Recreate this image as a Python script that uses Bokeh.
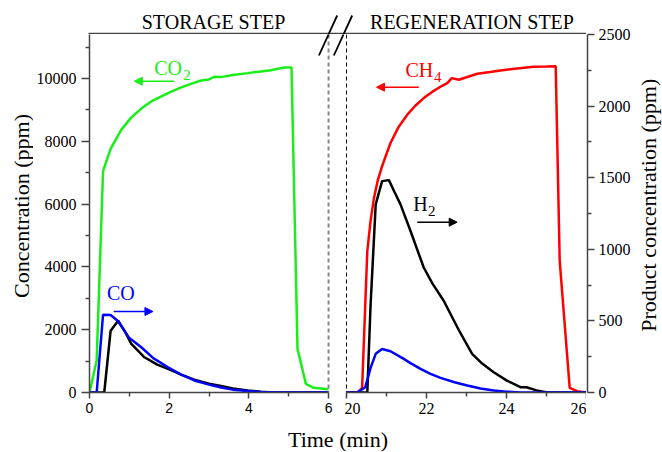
import math
from bokeh.plotting import figure
from bokeh.models import (Range1d, LinearAxis, FixedTicker, Span, Label, Arrow,
                          NormalHead, NumeralTickFormatter, Grid)
from bokeh.layouts import row, column
from bokeh.embed import file_html
from bokeh.resources import INLINE

# ---------------- data ----------------
# Storage step (0-6 min)
storage_co2_t = [0.0, 0.18, 0.34, 0.53, 0.8, 1.05, 1.3, 1.55, 1.97, 2.3, 2.6, 2.8, 2.97,
                 3.13, 3.3, 3.6, 3.97, 4.3, 4.55, 4.88, 5.07, 5.22, 5.43, 5.63, 6.0]
storage_co2 = [0, 1016, 7050, 7760, 8370, 8760, 9040, 9270, 9535, 9714, 9850, 9937, 9958,
               10053, 10043, 10110, 10170, 10225, 10264, 10349, 10349, 1397, 276, 149, 100]

storage_co_t = [0.0, 0.18, 0.34, 0.53, 0.72, 1.0, 1.3, 1.6, 1.97, 2.3, 2.63, 3.0, 3.3,
                3.6, 3.97, 4.3, 4.6, 6.0]
storage_co = [0, 0, 543, 541, 497, 380, 316, 240, 176, 125, 84, 55, 35, 20, 10, 4, 0, 0]

storage_h2_t = [0.0, 0.37, 0.53, 0.72, 0.9, 1.05, 1.38, 1.7, 1.97, 2.3, 2.63, 3.0, 3.3,
                3.6, 3.97, 4.3, 4.6, 6.0]
storage_h2 = [0, 0, 432, 501, 420, 339, 246, 195, 165, 125, 90, 62, 45, 28, 14, 5, 0, 0]

# Regeneration step (20-26 min)
regen_ch4_t = [20.0, 20.27, 20.39, 20.52, 20.6, 20.68, 20.78, 20.89, 21.0, 21.1, 21.3,
               21.52, 21.72, 21.93, 22.15, 22.39, 22.52, 22.63, 22.81, 23.0, 23.27, 23.55,
               23.85, 24.2, 24.68, 25.0, 25.23, 25.33, 25.58, 25.77, 26.0]
regen_ch4 = [0, 0, 137, 4500, 5450, 6150, 6750, 7206, 7600, 7946, 8450, 8847, 9130, 9375,
             9580, 9767, 9851, 10010, 9958, 10040, 10149, 10200, 10254, 10310, 10371,
             10380, 10390, 4190, 149, 41, 0]

regen_h2_t = [20.0, 20.52, 20.6, 20.73, 20.89, 21.06, 21.2, 21.35, 21.6, 21.93, 22.15,
              22.43, 22.8, 23.14, 23.4, 23.68, 24.0, 24.35, 24.5, 24.75, 25.02, 26.0]
regen_h2 = [0, 0, 600, 1314, 1476, 1483, 1400, 1314, 1128, 873, 760, 641, 440, 270, 200,
            141, 85, 37, 37, 15, 0, 0]

regen_co_t = [20.0, 20.27, 20.47, 20.6, 20.73, 20.89, 21.1, 21.4, 21.6, 21.85, 22.1, 22.35,
              22.7, 23.02, 23.35, 23.68, 24.0, 24.35, 26.0]
regen_co = [0, 0, 37, 170, 270, 304, 288, 240, 205, 165, 130, 102, 72, 49, 28, 14, 6, 0, 0]

# ticks
left_x_ticks = [0, 2, 4, 6]
left_x_minor = [1, 3, 5]
right_x_ticks = [20, 22, 24, 26]
right_x_minor = [21, 23, 25]
conc_ticks = [0, 2000, 4000, 6000, 8000, 10000]
conc_minor = [1000, 3000, 5000, 7000, 9000, 11000]
prod_ticks = [0, 500, 1000, 1500, 2000, 2500]
prod_minor = [250, 750, 1250, 1750, 2250]

CONC_MAX = 11400
PROD_MAX = 2500

# ---------------- styling ----------------
SERIF = "Liberation Serif"
SANS = "Liberation Sans"
AXIS_COLOR = "#444444"
GREEN = "#1aee1a"
BLUE = "#0000ff"
RED = "#ff0000"
BLACK = "#000000"
LW = 2.5
MID = 0.3375   # baseline offset below the text-box centre, in em

# page geometry (px): page = canvas (Bokeh template has no body margin)
W, H = 662, 452
TOP_H = 34           # strip above the frames
FR_BOT = 392         # y of value 0
MID_H = 390          # middle row height (34 .. 424)
ROW_H = TOP_H + MID_H
BOT_H = H - ROW_H
YL_W = 33            # left axis-title strip  (0 .. 33)
L_X0 = 88            # x of t = 0
R_FRAME0 = 344       # x where the right frame starts
R_X20 = 346          # x of t = 20
R_FRAME1 = 586       # x of t = 26
AX_W = 50            # right axis strip (586 .. 636)
YR_W = W - R_FRAME1 - AX_W   # right axis-title strip (636 .. 662)
PX_PER_MIN = 40.0
L_W = R_FRAME0 - YL_W
R_W = R_FRAME1 - R_FRAME0
TOP_W = R_FRAME1 - YL_W


def LX(px):
    return (px - L_X0) / PX_PER_MIN


def RX(px):
    return 20 + (px - R_X20) / PX_PER_MIN


def CY(py):
    return (FR_BOT - py) * CONC_MAX / (FR_BOT - TOP_H)


def PY(py):
    return (FR_BOT - py) * PROD_MAX / (FR_BOT - TOP_H)


def style_axis(ax, ticks, minor, font, size, tick_out, minor_out, standoff):
    ax.ticker = FixedTicker(ticks=ticks, minor_ticks=minor)
    ax.formatter = NumeralTickFormatter(format="0")
    ax.axis_line_color = AXIS_COLOR
    ax.axis_line_width = 1.5
    ax.major_tick_line_color = AXIS_COLOR
    ax.major_tick_line_width = 1.5
    ax.minor_tick_line_color = AXIS_COLOR
    ax.minor_tick_line_width = 1.5
    ax.major_tick_in = 0
    ax.major_tick_out = tick_out
    ax.minor_tick_in = 0
    ax.minor_tick_out = minor_out
    ax.major_label_text_font = font
    ax.major_label_text_font_size = size
    ax.major_label_text_color = "black"
    ax.major_label_standoff = standoff


def clean(fig):
    fig.outline_line_color = None
    fig.background_fill_color = "white"
    fig.border_fill_color = "white"
    for g in fig.select(type=Grid):
        g.visible = False


def strip(w, h):
    f = figure(width=w, height=h, x_range=Range1d(0, w), y_range=Range1d(0, h),
               x_axis_location=None, y_axis_location=None, toolbar_location=None,
               output_backend="svg", min_border=0)
    clean(f)
    return f


def txt(fig, x, y, text, color, size, align="left", angle=0.0):
    fig.add_layout(Label(x=x, y=y, text=text, text_color=color, text_font=SERIF,
                         text_font_size="%dpx" % size, text_baseline="middle",
                         text_align=align, angle=angle))


def arrow(fig, x0, x1, y, color):
    fig.add_layout(Arrow(x_start=x0, y_start=y, x_end=x1, y_end=y, line_color=color,
                         line_width=1.5,
                         end=NormalHead(size=8, fill_color=color, line_color=color)))


def slash(fig, x0, y0, x1, y1):
    fig.add_layout(Arrow(x_start=x0, y_start=y0, x_end=x1, y_end=y1, line_color="black",
                         line_width=1.8, end=None))


# ---------------- top strip (x 33..586): titles, top frame line, break marks ----------------
pTop = strip(TOP_W, TOP_H)
tx = lambda px: px - YL_W
ty = lambda py: TOP_H - py
txt(pTop, tx(213), ty(28 - MID * 20), "STORAGE STEP", "black", 20, align="center")
txt(pTop, tx(471.5), ty(28 - MID * 20), "REGENERATION STEP", "black", 20, align="center")
pTop.add_layout(Arrow(x_start=tx(L_X0), y_start=ty(33), x_end=tx(R_FRAME1 + 1),
                      y_end=ty(33), line_color=AXIS_COLOR, line_width=1.5, end=None))
slash(pTop, tx(318.3), ty(55), tx(336.7), ty(15))
slash(pTop, tx(333.3), ty(55), tx(351.7), ty(15))

# ---------------- left panel: storage step ----------------
pL = figure(width=L_W, height=MID_H, x_range=Range1d(0, LX(R_FRAME0)),
            y_range=Range1d(0, CONC_MAX),
            x_axis_location=None, y_axis_location=None, toolbar_location=None,
            output_backend="svg", min_border_left=L_X0 - YL_W, min_border_right=0,
            min_border_top=0, min_border_bottom=MID_H - (FR_BOT - TOP_H))
clean(pL)
pL.extra_y_ranges = {"prod": Range1d(0, PROD_MAX)}

axLx = LinearAxis(bounds=(0, 6))
style_axis(axLx, left_x_ticks, left_x_minor, SANS, "14px", 6, 4, 4)
pL.add_layout(axLx, "below")
axLy = LinearAxis()
style_axis(axLy, conc_ticks, conc_minor, SERIF, "16px", 8, 4, 5)
pL.add_layout(axLy, "left")
clean(pL)

pL.add_layout(Span(location=6, dimension="height", line_color="#888888", line_width=2,
                   line_dash="4 3"))

pL.line(storage_co2_t, storage_co2, line_color=GREEN, line_width=LW)
pL.line(storage_h2_t, storage_h2, line_color=BLACK, line_width=LW, y_range_name="prod")
pL.line(storage_co_t, storage_co, line_color=BLUE, line_width=LW, y_range_name="prod")

txt(pL, LX(153), CY(74 - MID * 20), "CO", GREEN, 20)
txt(pL, LX(182), CY(79.5 - MID * 15), "2", GREEN, 15)
arrow(pL, LX(173), LX(133), CY(80.7), GREEN)
txt(pL, LX(105.5), CY(299 - MID * 20), "CO", BLUE, 20)
arrow(pL, LX(112.3), LX(151.7), CY(311), BLUE)
slash(pL, LX(318.3), CY(55), LX(336.7), CY(15))
slash(pL, LX(333.3), CY(55), LX(351.7), CY(15))

# ---------------- right panel: regeneration step ----------------
pR = figure(width=R_W, height=MID_H, x_range=Range1d(RX(R_FRAME0), 26),
            y_range=Range1d(0, PROD_MAX),
            x_axis_location=None, y_axis_location=None, toolbar_location=None,
            output_backend="svg", min_border_left=0, min_border_right=0,
            min_border_top=0, min_border_bottom=MID_H - (FR_BOT - TOP_H))
clean(pR)
pR.extra_y_ranges = {"conc": Range1d(0, CONC_MAX)}

axRx = LinearAxis(bounds=(20, 26))
style_axis(axRx, right_x_ticks, right_x_minor, SERIF, "16px", 6, 4, 4)
pR.add_layout(axRx, "below")
clean(pR)

pR.add_layout(Span(location=20, dimension="height", line_color="black", line_width=1,
                   line_dash="4 3"))

pR.line(regen_ch4_t, regen_ch4, line_color=RED, line_width=LW, y_range_name="conc")
pR.line(regen_h2_t, regen_h2, line_color=BLACK, line_width=LW)
pR.line(regen_co_t, regen_co, line_color=BLUE, line_width=LW)

txt(pR, RX(405), PY(76 - MID * 20), "CH", RED, 20)
txt(pR, RX(433.5), PY(81.5 - MID * 15), "4", RED, 15)
arrow(pR, RX(418.3), RX(376), PY(86.7), RED)
txt(pR, RX(412.7), PY(210 - MID * 20), "H", BLACK, 20)
txt(pR, RX(427.5), PY(215.5 - MID * 15), "2", BLACK, 15)
arrow(pR, RX(416.7), RX(456.7), PY(221.7), BLACK)

# ---------------- right (product) axis in its own strip, full height ----------------
pAx = figure(width=AX_W, height=ROW_H, x_range=Range1d(0, 1), y_range=Range1d(0, PROD_MAX),
             x_axis_location=None, y_axis_location=None, toolbar_location=None,
             output_backend="svg", min_border_left=0, min_border_right=AX_W - 1,
             min_border_top=TOP_H, min_border_bottom=ROW_H - FR_BOT)
clean(pAx)
axRy = LinearAxis()
style_axis(axRy, prod_ticks, prod_minor, SERIF, "16px", 7, 4, 4)
pAx.add_layout(axRy, "right")
clean(pAx)

# ---------------- axis-title strips ----------------
pYL = strip(YL_W, ROW_H)
txt(pYL, 28 - MID * 22, ROW_H - 312, "Concentration (ppm)", "black", 22,
    align="left", angle=math.pi / 2)

pYR = strip(YR_W, ROW_H)
txt(pYR, 655 - MID * 22 - (W - YR_W), ROW_H - 352, "Product concentration (ppm)",
    "black", 22, align="left", angle=math.pi / 2)

pT = strip(W, BOT_H)
txt(pT, 337.5, H - (446 - MID * 22), "Time (min)", "black", 22, align="center")

layout = column(row(pYL, column(pTop, row(pL, pR)), pAx, pYR), pT)
open("out.html", "w").write(file_html(layout, INLINE))
